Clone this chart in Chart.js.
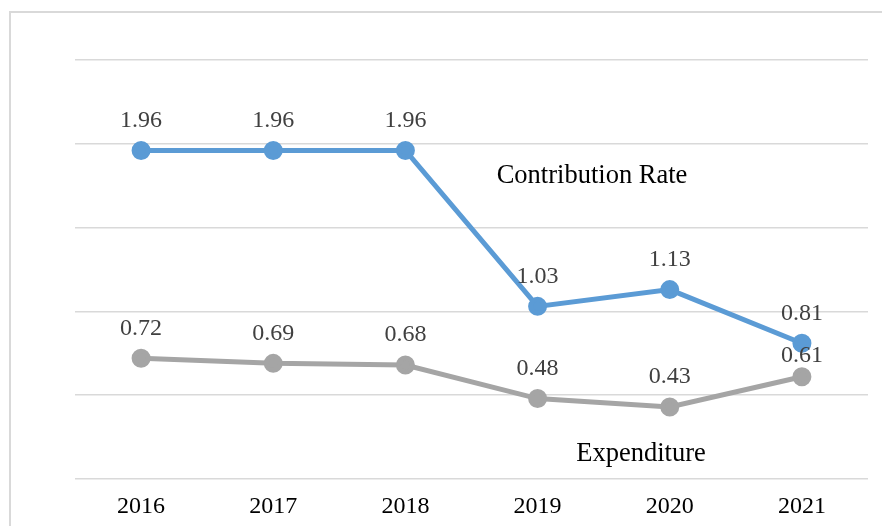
<!DOCTYPE html>
<html lang="en">
<head>
    <meta charset="UTF-8">
    <title>Contribution Rate and Expenditure</title>
    <script src="https://cdn.jsdelivr.net/npm/chart.js"></script>
    <style>
        html, body { margin: 0; padding: 0; background: #fff; }
        .wrap { position: relative; width: 882px; height: 526px; overflow: hidden; }
        .frame { position: absolute; left: 9px; top: 11px; width: 900px; height: 560px; border: 2px solid #d9d9d9; box-sizing: border-box; }
        canvas { position: absolute; left: 0; top: 0; }
    </style>
</head>
<body>
    <div class="wrap">
        <div class="frame"></div>
        <canvas id="chart" width="882" height="526"></canvas>
    </div>
    <script>
        const years = ['2016', '2017', '2018', '2019', '2020', '2021'];
        const contributionRate = [1.96, 1.96, 1.96, 1.03, 1.13, 0.81];
        const expenditure = [0.72, 0.69, 0.68, 0.48, 0.43, 0.61];
        const yTicks = [0, 0.5, 1, 1.5, 2, 2.5];

        const serif = '"Liberation Serif", "Times New Roman", serif';

        // value labels above each point + the two series captions
        const labelPlugin = {
            id: 'labels',
            afterDatasetsDraw(chart) {
                const ctx = chart.ctx;
                ctx.save();
                ctx.font = '24px ' + serif;
                ctx.fillStyle = '#404040';
                ctx.textAlign = 'center';
                ctx.textBaseline = 'middle';
                chart.data.datasets.forEach((ds, i) => {
                    chart.getDatasetMeta(i).data.forEach((pt, j) => {
                        let off = 30;
                        if (i === 1 && j === 5) off = 21;
                        ctx.fillText(ds.data[j].toFixed(2), pt.x, pt.y - off);
                    });
                });
                ctx.font = '26.5px ' + serif;
                ctx.fillStyle = '#000';
                ctx.fillText('Contribution Rate', 592, 176);
                ctx.fillText('Expenditure', 641, 454);
                ctx.restore();
            }
        };

        new Chart(document.getElementById('chart'), {
            type: 'line',
            data: {
                labels: years,
                datasets: [{
                    label: 'Contribution Rate',
                    data: contributionRate,
                    borderColor: '#5b9bd5',
                    backgroundColor: '#5b9bd5',
                    borderWidth: 5,
                    pointRadius: 7,
                    pointHoverRadius: 7,
                    tension: 0
                }, {
                    label: 'Expenditure',
                    data: expenditure,
                    borderColor: '#a5a5a5',
                    backgroundColor: '#a5a5a5',
                    borderWidth: 5,
                    pointRadius: 7,
                    pointHoverRadius: 7,
                    tension: 0
                }]
            },
            options: {
                responsive: false,
                animation: false,
                layout: { padding: { left: 75, right: 14, top: 60, bottom: 8 } },
                plugins: {
                    legend: { display: false },
                    tooltip: { enabled: false }
                },
                scales: {
                    x: {
                        offset: true,
                        afterFit(scale) { scale.height = 39; },
                        grid: { display: false, drawTicks: false },
                        border: { display: false },
                        ticks: {
                            padding: 13,
                            color: '#000',
                            font: { family: serif, size: 24 }
                        }
                    },
                    y: {
                        min: 0,
                        max: 2.5,
                        afterBuildTicks(scale) {
                            scale.ticks = yTicks.map(v => ({ value: v }));
                        },
                        afterFit(scale) { scale.width = 0; },
                        grid: { color: '#d9d9d9', lineWidth: 1.5, drawTicks: false },
                        border: { display: false },
                        ticks: { display: false }
                    }
                }
            },
            plugins: [labelPlugin]
        });
    </script>
</body>
</html>
